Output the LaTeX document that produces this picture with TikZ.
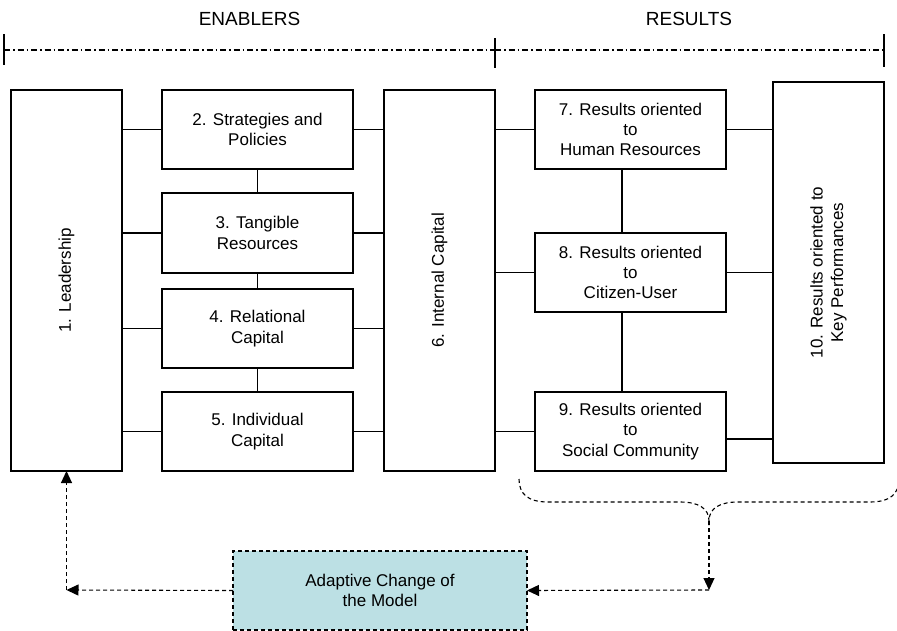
\documentclass[tikz,border=0pt]{standalone}
\usepackage{fontspec}
\setmainfont{Liberation Sans}
\usetikzlibrary{arrows.meta}
\definecolor{adaptfill}{RGB}{188,224,228}
\begin{document}
\begin{tikzpicture}[x=1pt,y=-1pt,
  box/.style={draw, line width=1.1pt, inner sep=0pt, outer sep=0pt, align=center, font=\fontsize{17}{20.4}\selectfont},
  lbl/.style={align=center, font=\fontsize{17}{20.4}\selectfont, inner sep=0pt, rotate=90},
  link/.style={line width=1.1pt},
  dasharrow/.style={line width=1.1pt, dash pattern=on 4pt off 3pt, -{Triangle[length=12pt,width=11pt]}},
  dashline/.style={line width=1.1pt, dash pattern=on 4pt off 3pt},
  head/.style={font=\fontsize{19}{23}\selectfont, anchor=base, inner sep=0pt},
  dashdot/.style={line width=1.1pt, dash pattern=on 6pt off 3pt on 1.5pt off 3pt}]
\useasboundingbox (0,0) rectangle (897,631);

% headers
\node[head] (enab) at (249.5,26) {ENABLERS};
\node[head] (res) at (689,26) {RESULTS};
\coordinate (tL) at (4,50);
\coordinate (tM) at (495,50);
\coordinate (tR) at (884,50);
\draw[dashdot] (tL) -- (tM);
\draw[dashdot] (tM) -- (tR);
\draw[link] ([yshift=-15pt]tL) -- ([yshift=16pt]tL);
\draw[link] ([yshift=-18pt]tM) -- ([yshift=12pt]tM);
\draw[link] ([yshift=-17pt]tR) -- ([yshift=16pt]tR);

% boxes
\node[box, minimum width=111pt, minimum height=381pt] (L) at (66.5,280.5) {};
\node[lbl] at (L.center) {1. Leadership};
\node[box, minimum width=191pt, minimum height=79pt] (b2) at (257.5,129.5) {2. Strategies and\\Policies};
\node[box, minimum width=191pt, minimum height=80pt] (b3) at (257.5,233) {3. Tangible\\Resources};
\node[box, minimum width=191pt, minimum height=79pt] (b4) at (257.5,328.5) {4. Relational\\Capital};
\node[box, minimum width=191pt, minimum height=79pt] (b5) at (257.5,431.5) {5. Individual\\Capital};
\node[box, minimum width=111pt, minimum height=381pt] (b6) at (439.5,280.5) {};
\node[lbl] at (b6.center) {6. Internal Capital};
\node[box, minimum width=191pt, minimum height=79pt] (b7) at (630.5,129.5) {7. Results oriented\\to\\Human Resources};
\node[box, minimum width=191pt, minimum height=79pt] (b8) at (630.5,272.5) {8. Results oriented\\to\\Citizen-User};
\node[box, minimum width=191pt, minimum height=79pt] (b9) at (630.5,431.5) {9. Results oriented\\to\\Social Community};
\node[box, minimum width=111pt, minimum height=381pt] (b10) at (828.5,272.5) {};
\node[lbl] at (b10.center) {10. Results oriented to\\Key Performances};
\node[box, dashline, fill=adaptfill, minimum width=294pt, minimum height=79pt] (ad) at (380,590.5) {Adaptive Change of\\the Model};

% connectors
\foreach \b in {b2,b3,b4,b5}{
  \draw[link] (\b.west) -- (\b.west -| L.east);
  \draw[link] (\b.east) -- (\b.east -| b6.west);
}
\draw[link] (b2) -- (b3);
\draw[link] (b3) -- (b4);
\draw[link] (b4) -- (b5);
\foreach \b in {b7,b8,b9}{
  \draw[link] (\b.west) -- (\b.west -| b6.east);
}
\draw[link] (b7.east) -- (b7.east -| b10.west);
\draw[link] (b8.east) -- (b8.east -| b10.west);
\draw[link] ([yshift=-7.5pt]b9.east) -- ([yshift=-7.5pt]b9.east -| b10.west);
\draw[link] ([xshift=-8.5pt]b7.south) -- ([xshift=-8.5pt]b8.north);
\draw[link] ([xshift=-8.5pt]b8.south) -- ([xshift=-8.5pt]b9.north);

% brace
\coordinate (bl) at (519,479);
\coordinate (bm) at (709,521);
\coordinate (br) at (899,479);
\draw[dashline] (bl) .. controls (519,494) and (528,502) .. (548,502) -- (680,502)
  .. controls (698,502) and (709,508) .. (bm)
  .. controls (709,508) and (720,502) .. (738,502) -- (870,502)
  .. controls (890,502) and (899,494) .. (br);

% feedback arrows
\coordinate (dn) at (709,590);
\coordinate (lc) at (66.5,590);
\draw[dasharrow] (bm) -- (dn);
\draw[dasharrow] (dn) -- (ad.east);
\draw[dasharrow] (ad.west) -- (lc);
\draw[dasharrow] (lc) -- (L.south);
\end{tikzpicture}
\end{document}
